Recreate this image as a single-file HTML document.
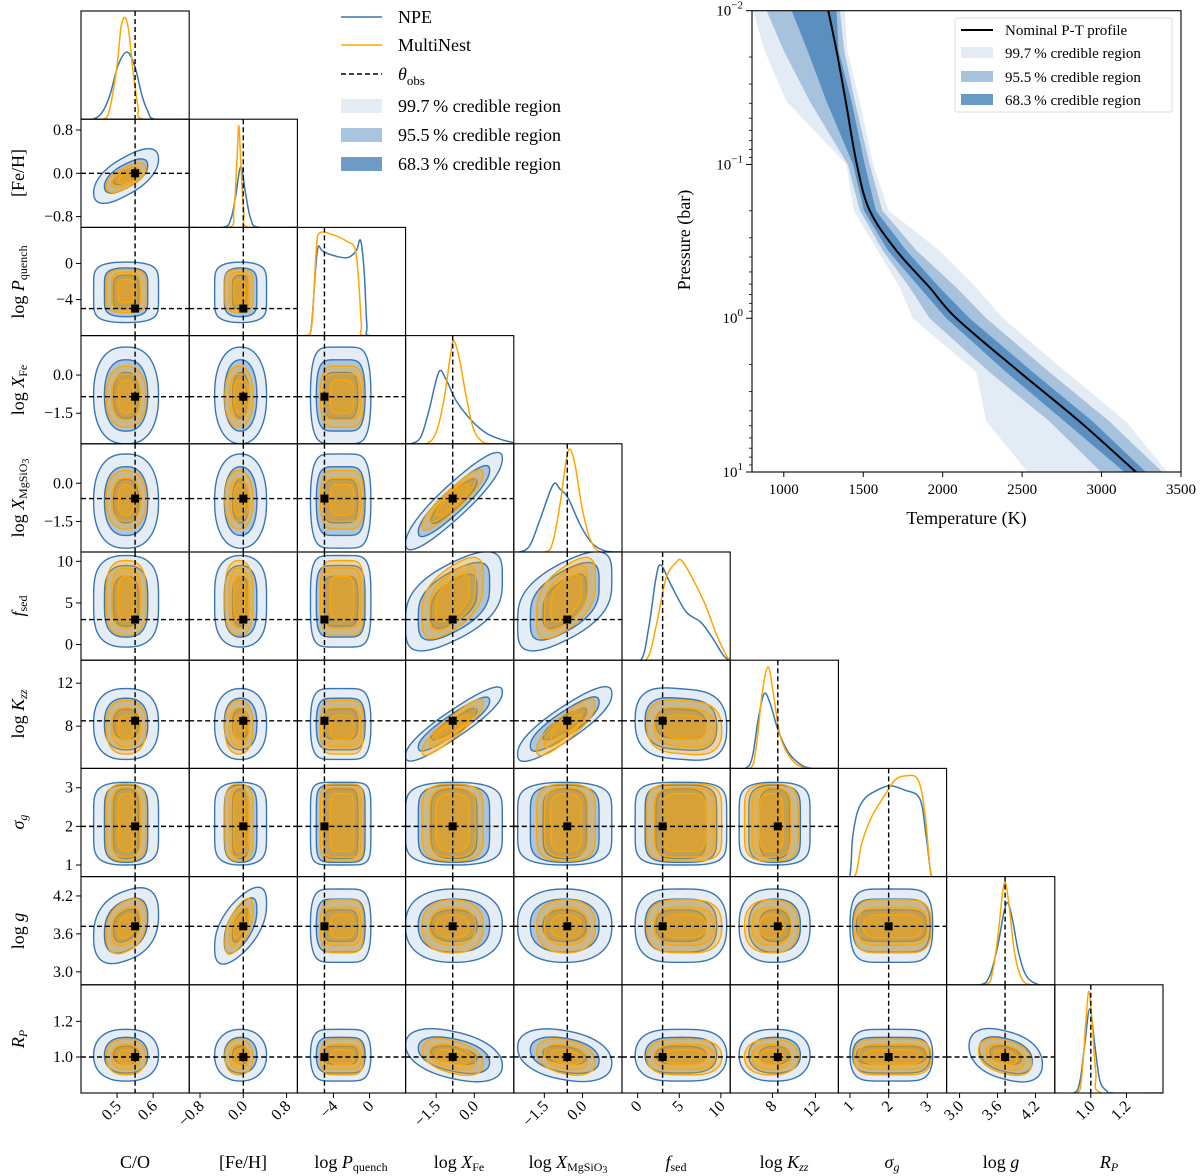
<!DOCTYPE html>
<html><head><meta charset="utf-8"><title>Corner plot</title>
<style>
html,body{margin:0;padding:0;background:#fff;}
svg{display:block;font-family:"Liberation Serif","DejaVu Serif",serif;}
</style></head>
<body>
<svg id="chart" width="1200" height="1176" viewBox="0 0 1200 1176" xmlns="http://www.w3.org/2000/svg">
<defs id="defs"></defs>
<g font-size="18" text-anchor="middle">
<text x="135" y="1168">C/O</text>
<text x="243" y="1168">[Fe/H]</text>
<text x="351" y="1168">log <tspan font-style="italic">P</tspan><tspan font-size="12" dy="3">quench</tspan></text>
<text x="459" y="1168">log <tspan font-style="italic">X</tspan><tspan font-size="12" dy="3">Fe</tspan></text>
<text x="568" y="1168">log <tspan font-style="italic">X</tspan><tspan font-size="12" dy="3">MgSiO</tspan><tspan font-size="10" dy="2">3</tspan></text>
<text x="676" y="1168"><tspan font-style="italic">f</tspan><tspan font-size="12" dy="3">sed</tspan></text>
<text x="784" y="1168">log <tspan font-style="italic">K</tspan><tspan font-size="12" dy="3" font-style="italic">zz</tspan></text>
<text x="892" y="1168"><tspan font-style="italic">σ</tspan><tspan font-size="12" dy="3" font-style="italic">g</tspan></text>
<text x="1001" y="1168">log <tspan font-style="italic">g</tspan></text>
<text x="1109" y="1168"><tspan font-style="italic">R</tspan><tspan font-size="12" dy="3" font-style="italic">P</tspan></text>
</g>
<g font-size="18" text-anchor="middle">
<text transform="translate(24,173) rotate(-90)">[Fe/H]</text>
<text transform="translate(24,282) rotate(-90)">log <tspan font-style="italic">P</tspan><tspan font-size="12" dy="3">quench</tspan></text>
<text transform="translate(24,390) rotate(-90)">log <tspan font-style="italic">X</tspan><tspan font-size="12" dy="3">Fe</tspan></text>
<text transform="translate(24,498) rotate(-90)">log <tspan font-style="italic">X</tspan><tspan font-size="12" dy="3">MgSiO</tspan><tspan font-size="10" dy="2">3</tspan></text>
<text transform="translate(24,606) rotate(-90)"><tspan font-style="italic">f</tspan><tspan font-size="12" dy="3">sed</tspan></text>
<text transform="translate(24,714) rotate(-90)">log <tspan font-style="italic">K</tspan><tspan font-size="12" dy="3" font-style="italic">zz</tspan></text>
<text transform="translate(24,822) rotate(-90)"><tspan font-style="italic">σ</tspan><tspan font-size="12" dy="3" font-style="italic">g</tspan></text>
<text transform="translate(24,931) rotate(-90)">log <tspan font-style="italic">g</tspan></text>
<text transform="translate(24,1039) rotate(-90)"><tspan font-style="italic">R</tspan><tspan font-size="12" dy="3" font-style="italic">P</tspan></text>
</g>
</svg>
<script>
// ---------- corner plot data ----------
const paramNames = ["C/O","[Fe/H]","log Pquench","log XFe","log XMgSiO3","fsed","log Kzz","sigma_g","log g","R_P"];
const rangeLo = [0.4, -1, -8, -2.7, -2.7, -1.88, 4.07, 0.7, 2.795, 0.798];
const rangeHi = [0.7, 1, 4, 1.55, 1.55, 11.12, 14.14, 3.5, 4.506, 1.405];
const truthVals = [0.55, 0, -5, -0.85, -0.6, 3, 8.5, 2, 3.72, 1.0];
const tickVals = [[0.5,0.6],[-0.8,0,0.8],[-4,0],[-1.5,0],[-1.5,0],[0,5,10],[8,12],[1,2,3],[3.0,3.6,4.2],[1.0,1.2]];
const tickText = [["0.5","0.6"],["\u22120.8","0.0","0.8"],["\u22124","0"],["\u22121.5","0.0"],["\u22121.5","0.0"],["0","5","10"],["8","12"],["1","2","3"],["3.0","3.6","4.2"],["1.0","1.2"]];
const npeCenter = [0.525, -0.05, -3.2, -0.8, -0.7, 5.2, 8.2, 2.07, 3.73, 1.01];
const npeHalf = [[0.035,0.06,0.09],[0.15,0.3,0.48],[1.9,2.7,3.35],[0.9,1.4,1.9],[0.85,1.35,1.85],[3.0,4.3,5.5],[1.4,2.4,3.3],[0.9,1.0,1.07],[0.25,0.42,0.58],[0.05,0.1,0.145]];
const mnCenter = [0.525, -0.08, -3.05, -0.85, -0.65, 5.6, 7.9, 2.1, 3.72, 1.0];
const mnHalf = [[0.022,0.04,0.055],[0.1,0.18,0.26],[1.3,2.1,2.4],[0.65,0.9,1.2],[0.6,0.85,1.15],[2.6,3.6,4.5],[1.1,1.8,2.5],[0.75,0.9,1.0],[0.18,0.3,0.42],[0.04,0.07,0.1]];
const boxiness = [2.5, 2.2, 6, 2.3, 2.3, 3.5, 2.5, 6, 2.5, 2.2];
const corrPairs = [[0,1,0.65],[0,8,0.3],[1,8,0.6],[3,4,0.9],[3,6,0.9],[4,6,0.85],[3,5,0.5],[4,5,0.5],[3,9,-0.4],[4,9,-0.3],[8,9,-0.35],[5,6,-0.1]];
const npeMargX = [
 [0.40,0.433,0.458,0.48,0.503,0.528,0.55,0.569,0.586,0.605,0.7],
 [-1,-0.376,-0.229,-0.138,-0.046,0.046,0.138,0.284,1],
 [-8,-7.2,-6.5,-6.0,-5.7,-5.2,-4,-2.5,-1.5,-1.0,-0.6,-0.3,0,4],
 [-2.7,-2.5,-2.11,-1.79,-1.4,-1.12,-0.72,-0.13,0.46,1.05,1.55],
 [-2.7,-2.46,-2.07,-1.67,-1.16,-0.88,-0.57,-0.09,0.38,0.9,1.55],
 [-1.88,0.37,1.33,2.18,2.78,3.98,5.79,7.6,9.04,10.25,10.97,11.12],
 [4.07,5.47,6.12,6.67,7.23,7.79,8.54,9.47,10.58,11.7,14.14],
 [0.7,0.987,1.065,1.195,1.402,1.714,2.026,2.415,2.805,2.961,3.09,3.143,3.5],
 [2.795,3.316,3.474,3.6,3.695,3.759,3.838,3.933,4.059,4.264,4.506],
 [0.798,0.904,0.938,0.966,0.994,1.022,1.05,1.089,1.128,1.405]];
const npeMargY = [
 [0,0,0.06,0.22,0.5,0.62,0.48,0.22,0.07,0,0],
 [0,0,0.08,0.3,0.56,0.3,0.08,0,0],
 [0,0,0.05,0.6,0.82,0.78,0.74,0.72,0.78,0.88,0.6,0.1,0,0],
 [0,0,0.06,0.3,0.66,0.6,0.4,0.22,0.1,0.04,0.01],
 [0,0,0.06,0.3,0.62,0.58,0.5,0.25,0.08,0.01,0],
 [0,0,0.3,0.75,0.88,0.7,0.45,0.35,0.2,0.05,0,0],
 [0,0,0.1,0.45,0.69,0.6,0.35,0.15,0.04,0,0],
 [0,0,0.35,0.6,0.73,0.8,0.84,0.8,0.72,0.4,0.03,0,0],
 [0,0,0.08,0.35,0.65,0.76,0.6,0.3,0.08,0,0],
 [0,0,0.1,0.45,0.78,0.45,0.12,0.02,0,0]];
const mnMargX = [
 [0.4,0.461,0.48,0.5,0.511,0.522,0.533,0.544,0.558,0.572,0.7],
 [-1,-0.266,-0.174,-0.119,-0.083,-0.046,0.009,0.1,1],
 [-8,-7,-6.4,-5.9,-5.5,-4,-2.5,-1.6,-1.2,-0.9,-0.6,4],
 [-2.7,-1.91,-1.51,-1.2,-0.92,-0.8,-0.6,-0.33,-0.05,0.26,0.66,1.55],
 [-2.7,-1.47,-1.16,-0.88,-0.64,-0.49,-0.29,-0.01,0.3,0.7,1.55],
 [-1.88,0.97,2.18,3.38,4.59,5.31,6.63,8.2,9.4,10.61,11.12],
 [4.07,5.93,6.49,7.05,7.6,8.07,8.72,9.65,10.58,11.51,14.14],
 [0.7,1.117,1.298,1.558,1.896,2.155,2.415,2.753,2.935,3.065,3.143,3.5],
 [2.795,3.395,3.522,3.616,3.68,3.727,3.79,3.869,3.98,4.138,4.506],
 [0.798,0.921,0.949,0.972,0.988,1.005,1.028,1.061,1.405]];
const mnMargY = [
 [0,0,0.1,0.5,0.85,0.94,0.8,0.45,0.12,0,0],
 [0,0,0.15,0.6,0.94,0.6,0.15,0,0],
 [0,0,0.1,0.8,0.95,0.93,0.87,0.8,0.5,0.1,0,0],
 [0,0,0.1,0.4,0.85,0.95,0.8,0.45,0.15,0.03,0,0],
 [0,0,0.1,0.45,0.85,0.95,0.8,0.4,0.12,0,0],
 [0,0,0.3,0.75,0.9,0.92,0.75,0.5,0.25,0.05,0],
 [0,0,0.2,0.7,0.94,0.7,0.3,0.1,0.02,0,0],
 [0,0,0.3,0.55,0.75,0.89,0.93,0.9,0.6,0.1,0,0],
 [0,0,0.12,0.5,0.85,0.94,0.7,0.3,0.06,0,0],
 [0,0,0.15,0.65,0.94,0.7,0.2,0,0]];

// ---------- P-T profile data ----------
const ptLogP = [-2,-1.74,-1.41,-1,-0.7,-0.44,-0.2,0,0.35,0.67,1];
const ptNominal = [1280,1332,1390,1460,1541,1709,1918,2086,2484,2860,3216];
const pt68Lo = [1050,1150,1269,1436,1505,1656,1855,2023,2400,2766,3143];
const pt68Hi = [1332,1345,1426,1510,1580,1772,1980,2169,2567,2943,3279];
const pt95Lo = [892,1000,1164,1403,1480,1623,1792,1918,2295,2672,2997];
const pt95Hi = [1353,1380,1447,1541,1620,1835,2086,2274,2672,3048,3383];
const pt997Lo = [806,880,1017,1395,1440,1591,1730,1812,2211,2274,2536];
const pt997Hi = [1384,1400,1478,1562,1660,1980,2211,2379,2777,3153,3414];
const ptXTicks = [1000,1500,2000,2500,3000,3500];
const ptYTicks = [-2,-1,0,1];
const ptYTickExp = ["\u22122","\u22121","0","1"];

// ---------- rendering ----------
const NS = "http://www.w3.org/2000/svg";
const svg = document.getElementById('chart');
const defs = document.getElementById('defs');
function mk(tag, attrs, parent){ const e=document.createElementNS(NS,tag); for(const k in attrs) e.setAttribute(k,attrs[k]); (parent||svg).appendChild(e); return e; }
const BLUE="#3a75af", ORANGE="#ffa500";
const F1="#e4ecf5", F2="#a9c4de", F3="#6f9bc7";
const X0=81, Y0=11, S=108.2, N=10;
function px(c,v){ return X0+c*S+(v-rangeLo[c])/(rangeHi[c]-rangeLo[c])*S; }
function py(r,v){ return Y0+(r+1)*S-(v-rangeLo[r])/(rangeHi[r]-rangeLo[r])*S; }
function smooth(pts){
  let d="M"+pts[0][0].toFixed(2)+","+pts[0][1].toFixed(2);
  for(let i=0;i<pts.length-1;i++){
    const p0=pts[Math.max(i-1,0)],p1=pts[i],p2=pts[i+1],p3=pts[Math.min(i+2,pts.length-1)];
    const c1=[p1[0]+(p2[0]-p0[0])/6,p1[1]+(p2[1]-p0[1])/6], c2=[p2[0]-(p3[0]-p1[0])/6,p2[1]-(p3[1]-p1[1])/6];
    d+="C"+c1[0].toFixed(2)+","+c1[1].toFixed(2)+" "+c2[0].toFixed(2)+","+c2[1].toFixed(2)+" "+p2[0].toFixed(2)+","+p2[1].toFixed(2);
  }
  return d;
}
function corrOf(i,j){ for(const p of corrPairs){ if((p[0]===i&&p[1]===j)||(p[0]===j&&p[1]===i)) return p[2]; } return 0; }
function contour(r,c,center,half,lvl){
  const rho=corrOf(c,r), q=Math.sqrt(1-rho*rho), pts=[];
  for(let k=0;k<96;k++){
    const t=k/96*2*Math.PI, ct=Math.cos(t), st=Math.sin(t);
    const u=Math.sign(ct)*Math.pow(Math.abs(ct),2/boxiness[c]);
    const w=Math.sign(st)*Math.pow(Math.abs(st),2/boxiness[r]);
    const xv=center[c]+half[c][lvl]*u, yv=center[r]+half[r][lvl]*(rho*u+q*w);
    pts.push(px(c,xv).toFixed(2)+","+py(r,yv).toFixed(2));
  }
  return "M"+pts.join("L")+"Z";
}

for(let r=0;r<N;r++){
  for(let c=0;c<=r;c++){
    const x0=X0+c*S, y0=Y0+r*S;
    const g=mk('g',{});
    
    
    const cp=mk('clipPath',{id:'cp'+r+'_'+c},defs);
    mk('rect',{x:x0,y:y0,width:S,height:S},cp);
    const inner=mk('g',{'clip-path':'url(#cp'+r+'_'+c+')'},g);
    if(r===c){
      const npePts=npeMargX[c].map((v,k)=>[px(c,v),y0+S-npeMargY[c][k]*S]);
      const mnPts=mnMargX[c].map((v,k)=>[px(c,v),y0+S-mnMargY[c][k]*S]);
      const l1=mk('path',{d:smooth(npePts),fill:'none',stroke:BLUE,'stroke-width':1.5},inner);
      
      
      const l2=mk('path',{d:smooth(mnPts),fill:'none',stroke:ORANGE,'stroke-width':1.5},inner);
      
      
      const tv=px(c,truthVals[c]);
      const dl=mk('line',{x1:tv,x2:tv,y1:y0,y2:y0+S,stroke:'#000','stroke-width':1.4,'stroke-dasharray':'5,3'},inner);
      
      
    } else {
      const fills=[F1,F2,F3];
      for(let l=2;l>=0;l--){
        const e=mk('path',{d:contour(r,c,npeCenter,npeHalf,l),fill:fills[2-l],stroke:BLUE,'stroke-width':1.4},inner);
        
        
      }
      for(let l=2;l>=0;l--){
        const e=mk('path',{d:contour(r,c,mnCenter,mnHalf,l),fill:'rgba(255,165,0,0.34)',stroke:ORANGE,'stroke-width':1.4},inner);
        
        
      }
      const tx=px(c,truthVals[c]), ty=py(r,truthVals[r]);
      const v1=mk('line',{x1:tx,x2:tx,y1:y0,y2:y0+S,stroke:'#000','stroke-width':1.4,'stroke-dasharray':'5,3'},inner);
      
      
      const h1=mk('line',{x1:x0,x2:x0+S,y1:ty,y2:ty,stroke:'#000','stroke-width':1.4,'stroke-dasharray':'5,3'},inner);
      
      
      const sq=mk('rect',{x:tx-4,y:ty-4,width:8,height:8,fill:'#000'},inner);
      
      
    }
    const fr=mk('rect',{x:x0,y:y0,width:S,height:S,fill:'none',stroke:'#000','stroke-width':1.1},g);
    
    
    if(r===N-1){
      tickVals[c].forEach((v,k)=>{
        const xx=px(c,v);
        mk('line',{x1:xx,x2:xx,y1:y0+S,y2:y0+S+5,stroke:'#000','stroke-width':1},g);
        const t=mk('text',{x:xx+5,y:y0+S+14,'font-size':16,'text-anchor':'end',transform:'rotate(-45 '+(xx+5)+' '+(y0+S+14)+')'},g);
        t.textContent=tickText[c][k];
        
        
      });
    }
    if(c===0 && r>0){
      tickVals[r].forEach((v,k)=>{
        const yy=py(r,v);
        mk('line',{x1:x0-5,x2:x0,y1:yy,y2:yy,stroke:'#000','stroke-width':1},g);
        const t=mk('text',{x:x0-8,y:yy+5,'font-size':16,'text-anchor':'end'},g);
        t.textContent=tickText[r][k];
        
        
      });
    }
  }
}

// ---------- corner legend ----------
(function(){
  const lg=mk('g',{});
  
  
  const ys=[17,45,74,106,135,164];
  mk('line',{x1:341,x2:382,y1:ys[0],y2:ys[0],stroke:BLUE,'stroke-width':1.5},lg);
  mk('line',{x1:341,x2:382,y1:ys[1],y2:ys[1],stroke:ORANGE,'stroke-width':1.5},lg);
  mk('line',{x1:341,x2:382,y1:ys[2],y2:ys[2],stroke:'#000','stroke-width':1.5,'stroke-dasharray':'5,3'},lg);
  mk('rect',{x:341,y:ys[3]-7,width:41,height:14,fill:F1},lg);
  mk('rect',{x:341,y:ys[4]-7,width:41,height:14,fill:F2},lg);
  mk('rect',{x:341,y:ys[5]-7,width:41,height:14,fill:F3},lg);
  const labels=["NPE","MultiNest",null,"99.7\u2009% credible region","95.5\u2009% credible region","68.3\u2009% credible region"];
  labels.forEach((s,k)=>{
    const t=mk('text',{x:398,y:ys[k]+6,'font-size':18},lg);
    if(s===null){ t.innerHTML='<tspan font-style="italic">θ</tspan><tspan font-size="13" dy="5">obs</tspan>'; }
    else t.textContent=s;
    
    
  });
})();

// ---------- P-T panel ----------
(function(){
  const L=752,R=1181,T=10.7,B=472,tLo=800,tHi=3500;
  const tx=v=>L+(v-tLo)/(tHi-tLo)*(R-L);
  const ty=lp=>T+(lp+2)/3*(B-T);
  const g=mk('g',{});
  
  
  const cp=mk('clipPath',{id:'cpPT'},defs);
  mk('rect',{x:L,y:T,width:R-L,height:B-T},cp);
  const inner=mk('g',{'clip-path':'url(#cpPT)'},g);
  function band(lo,hi,fill,name){
    const pts=[];
    ptLogP.forEach((p,k)=>pts.push(tx(lo[k]).toFixed(1)+","+ty(p).toFixed(1)));
    for(let k=ptLogP.length-1;k>=0;k--) pts.push(tx(hi[k]).toFixed(1)+","+ty(ptLogP[k]).toFixed(1));
    const e=mk('polygon',{points:pts.join(' '),fill:fill},inner);
    
    
  }
  band(pt997Lo,pt997Hi,'#e3ebf4','band-99-7');
  band(pt95Lo,pt95Hi,'#a6c2dd','band-95-5');
  band(pt68Lo,pt68Hi,'#5b8fc0','band-68-3');
  const nl=mk('path',{d:smooth(ptLogP.map((p,k)=>[tx(ptNominal[k]),ty(p)])),fill:'none',stroke:'#000','stroke-width':2},inner);
  
  
  const fr=mk('rect',{x:L,y:T,width:R-L,height:B-T,fill:'none',stroke:'#000','stroke-width':1.1},g);
  
  
  ptXTicks.forEach(v=>{
    const x=tx(v);
    mk('line',{x1:x,x2:x,y1:B,y2:B+5,stroke:'#000','stroke-width':1},g);
    const t=mk('text',{x:x,y:B+22,'font-size':15,'text-anchor':'middle'},g);
    t.textContent=v;
    
    
  });
  ptYTicks.forEach((p,k)=>{
    const y=ty(p);
    mk('line',{x1:L-6,x2:L,y1:y,y2:y,stroke:'#000','stroke-width':1},g);
    if(k<ptYTicks.length-1){
      for(let m=2;m<10;m++){
        const ym=ty(p+Math.log10(m));
        mk('line',{x1:L-3,x2:L,y1:ym,y2:ym,stroke:'#000','stroke-width':0.8},g);
      }
    }
    const t=mk('text',{x:L-9,y:y+5,'font-size':15,'text-anchor':'end'},g);
    t.innerHTML='10<tspan font-size="11" dy="-7">'+ptYTickExp[k]+'</tspan>';
    
    
  });
  const xl=mk('text',{x:(L+R)/2,y:524,'font-size':18,'text-anchor':'middle'},g);
  xl.textContent='Temperature (K)';
  
  
  const yl=mk('text',{'font-size':18,'text-anchor':'middle',transform:'translate(690,240) rotate(-90)'},g);
  yl.textContent='Pressure (bar)';
  
  
  const lg=mk('g',{},g);
  
  
  mk('rect',{x:955,y:18,width:217,height:94,fill:'#fff','fill-opacity':0.85,stroke:'#ddd','stroke-width':1,rx:2},lg);
  const ly=[30,53,77,100];
  mk('line',{x1:961,x2:993,y1:ly[0],y2:ly[0],stroke:'#000','stroke-width':2},lg);
  mk('rect',{x:961,y:ly[1]-6,width:32,height:11,fill:'#e3ebf4'},lg);
  mk('rect',{x:961,y:ly[2]-6,width:32,height:11,fill:'#a6c2dd'},lg);
  mk('rect',{x:961,y:ly[3]-6,width:32,height:11,fill:'#6a9ac6'},lg);
  const lt=["Nominal P-T profile","99.7\u2009% credible region","95.5\u2009% credible region","68.3\u2009% credible region"];
  lt.forEach((s,k)=>{
    const t=mk('text',{x:1005,y:ly[k]+5,'font-size':15},lg);
    t.textContent=s;
    
    
  });
})();
</script>
</body></html>
